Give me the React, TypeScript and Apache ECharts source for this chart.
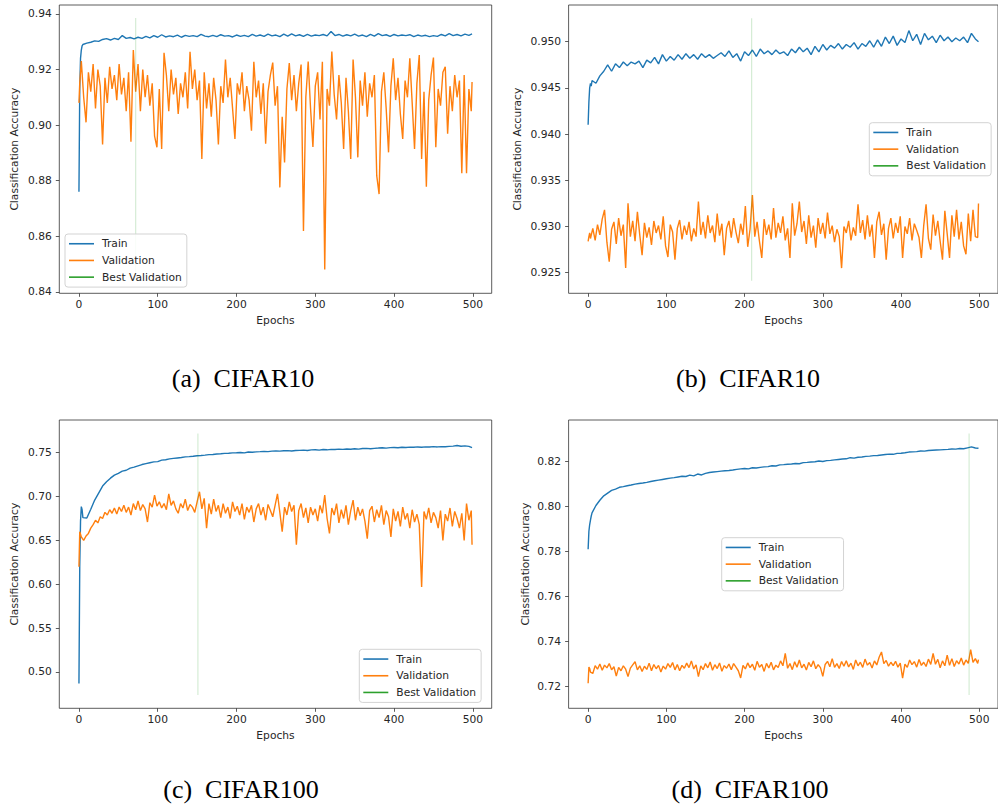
import React, { useEffect, useRef } from "react";
import * as echarts from "echarts";

// ---- data ----
// epochs sampled for the training curves
const EPOCHS = [0, 1, 2, 3, 4, 5,
  10, 15, 20, 25, 30, 35, 40, 45, 50, 55,
  60, 65, 70, 75, 80, 85, 90, 95, 100, 105,
  110, 115, 120, 125, 130, 135, 140, 145, 150, 155,
  160, 165, 170, 175, 180, 185, 190, 195, 200, 205,
  210, 215, 220, 225, 230, 235, 240, 245, 250, 255,
  260, 265, 270, 275, 280, 285, 290, 295, 300, 305,
  310, 315, 320, 325, 330, 335, 340, 345, 350, 355,
  360, 365, 370, 375, 380, 385, 390, 395, 400, 405,
  410, 415, 420, 425, 430, 435, 440, 445, 450, 455,
  460, 465, 470, 475, 480, 485, 490, 495, 499];

// epochs sampled for the (noisier) validation curves
const EPOCHS_V = [0, 1, 2,
  3, 6, 9, 12, 15, 18, 21, 24, 27, 30,
  33, 36, 39, 42, 45, 48, 51, 54, 57, 60,
  63, 66, 69, 72, 75, 78, 81, 84, 87, 90,
  93, 96, 99, 102, 105, 108, 111, 114, 117, 120,
  123, 126, 129, 132, 135, 138, 141, 144, 147, 150,
  153, 156, 159, 162, 165, 168, 171, 174, 177, 180,
  183, 186, 189, 192, 195, 198, 201, 204, 207, 210,
  213, 216, 219, 222, 225, 228, 231, 234, 237, 240,
  243, 246, 249, 252, 255, 258, 261, 264, 267, 270,
  273, 276, 279, 282, 285, 288, 291, 294, 297, 300,
  303, 306, 309, 312, 315, 318, 321, 324, 327, 330,
  333, 336, 339, 342, 345, 348, 351, 354, 357, 360,
  363, 366, 369, 372, 375, 378, 381, 384, 387, 390,
  393, 396, 399, 402, 405, 408, 411, 414, 417, 420,
  423, 426, 429, 432, 435, 438, 441, 444, 447, 450,
  453, 456, 459, 462, 465, 468, 471, 474, 477, 480,
  483, 486, 489, 492, 495, 498, 499];

const TRAIN_A = [0.876, 0.913, 0.924, 0.927, 0.9285, 0.929,
  0.9295, 0.9298, 0.9303, 0.9301, 0.9308, 0.9311, 0.9306, 0.9312, 0.9308, 0.9322,
  0.9312, 0.9315, 0.931, 0.9316, 0.9312, 0.9319, 0.9314, 0.9322, 0.9316, 0.9325,
  0.9317, 0.9321, 0.9318, 0.9324, 0.9316, 0.9323, 0.9319, 0.9322, 0.9318, 0.9326,
  0.932, 0.9318, 0.9323, 0.9318, 0.9325, 0.932, 0.9322, 0.9317, 0.9324, 0.9319,
  0.9323, 0.9318, 0.9326, 0.932, 0.9324, 0.9319, 0.9327, 0.9321, 0.9324, 0.9318,
  0.9327, 0.932, 0.9328, 0.9321, 0.9325, 0.9319, 0.9326, 0.932, 0.9324, 0.9322,
  0.9326, 0.9321, 0.9337, 0.9322, 0.9326, 0.932, 0.9325, 0.9321, 0.9327, 0.932,
  0.9324, 0.9318, 0.9326, 0.932, 0.9329, 0.9322, 0.9325, 0.9319, 0.9326, 0.9321,
  0.9324, 0.9322, 0.9325, 0.9318, 0.9324, 0.932, 0.9323, 0.9318, 0.9322, 0.9319,
  0.9326, 0.9321, 0.9329, 0.9322, 0.9326, 0.9321, 0.9327, 0.9323, 0.9328];

const VAL_A = [0.908, 0.915, 0.919,
  0.923, 0.91, 0.901, 0.919, 0.912, 0.922, 0.906, 0.92, 0.914, 0.893,
  0.917, 0.908, 0.921, 0.913, 0.918, 0.909, 0.922, 0.911, 0.917, 0.905,
  0.919, 0.894, 0.927, 0.912, 0.922, 0.905, 0.92, 0.91, 0.918, 0.907,
  0.915, 0.896, 0.892, 0.913, 0.8914, 0.926, 0.918, 0.905, 0.92, 0.911,
  0.917, 0.904, 0.915, 0.91, 0.919, 0.906, 0.9264, 0.913, 0.92, 0.909,
  0.916, 0.8878, 0.919, 0.906, 0.915, 0.903, 0.917, 0.909, 0.893, 0.914,
  0.908, 0.9236, 0.91, 0.917, 0.906, 0.895, 0.915, 0.911, 0.919, 0.905,
  0.914, 0.909, 0.898, 0.9228, 0.91, 0.916, 0.904, 0.915, 0.8933, 0.912,
  0.918, 0.9225, 0.907, 0.914, 0.8776, 0.903, 0.8866, 0.913, 0.9223, 0.909,
  0.918, 0.905, 0.915, 0.9218, 0.8619, 0.91, 0.9229, 0.906, 0.8921, 0.914,
  0.919, 0.902, 0.9228, 0.8481, 0.913, 0.907, 0.9265, 0.911, 0.902, 0.918,
  0.908, 0.8914, 0.917, 0.905, 0.8878, 0.9236, 0.91, 0.8884, 0.916, 0.907,
  0.919, 0.903, 0.915, 0.91, 0.918, 0.8818, 0.8752, 0.912, 0.919, 0.906,
  0.8902, 0.914, 0.924, 0.909, 0.917, 0.904, 0.895, 0.916, 0.91, 0.924,
  0.908, 0.8914, 0.915, 0.9252, 0.8878, 0.912, 0.8778, 0.909, 0.918, 0.9243,
  0.892, 0.913, 0.907, 0.919, 0.921, 0.8969, 0.914, 0.905, 0.918, 0.91,
  0.916, 0.8827, 0.918, 0.8827, 0.913, 0.905, 0.9155];

const TRAIN_B = [0.941, 0.9435, 0.945, 0.9455, 0.9452, 0.9458,
  0.9455, 0.9463, 0.9468, 0.9475, 0.9468, 0.9476, 0.9472, 0.9478, 0.9474, 0.9478,
  0.9476, 0.9479, 0.9472, 0.948, 0.9477, 0.9483, 0.9476, 0.9486, 0.9479, 0.9484,
  0.948, 0.9486, 0.9481, 0.9487, 0.9482, 0.9486, 0.9481, 0.9487, 0.9483, 0.9486,
  0.9482, 0.9485, 0.9488, 0.9484, 0.949, 0.9483, 0.9487, 0.9479, 0.9489, 0.9485,
  0.9491, 0.9484, 0.9492, 0.9487, 0.949, 0.9486, 0.9491, 0.9487, 0.9489, 0.9485,
  0.9492, 0.9488, 0.9494, 0.9489, 0.9493, 0.9486, 0.9495, 0.9489, 0.9497, 0.9491,
  0.9496, 0.9493, 0.9498, 0.9492, 0.9497, 0.9494, 0.9499, 0.9492, 0.9498, 0.9495,
  0.9501, 0.9494, 0.9502, 0.9495, 0.9505, 0.9498, 0.9506, 0.9496, 0.9503, 0.9499,
  0.9512, 0.9501, 0.9508, 0.9497, 0.9509, 0.9502, 0.9506, 0.9499, 0.9507, 0.9501,
  0.9505, 0.95, 0.9504, 0.9501, 0.9505, 0.9499, 0.9509, 0.9503, 0.95];

const VAL_B = [0.9284, 0.9289, 0.9293,
  0.9287, 0.9298, 0.9285, 0.9302, 0.9291, 0.9308, 0.9318, 0.9283, 0.9262, 0.9297,
  0.9305, 0.9281, 0.9309, 0.929, 0.9302, 0.9255, 0.9325, 0.9289, 0.9306, 0.9284,
  0.9316, 0.9291, 0.9269, 0.9304, 0.9288, 0.9299, 0.928, 0.9306, 0.9293, 0.9301,
  0.9286, 0.9311, 0.9279, 0.9267, 0.9302, 0.9294, 0.9264, 0.9298, 0.9307, 0.9286,
  0.9301, 0.9291, 0.9305, 0.9284, 0.9298, 0.9289, 0.9327, 0.9291, 0.9305, 0.9287,
  0.9312, 0.9293, 0.9301, 0.9283, 0.9314, 0.929, 0.9303, 0.9269, 0.9298, 0.9306,
  0.9288, 0.9309, 0.9294, 0.9282, 0.9303, 0.9291, 0.9322, 0.9278, 0.9297, 0.9334,
  0.9289, 0.9305, 0.9284, 0.9266, 0.9308, 0.9291, 0.9302, 0.9286, 0.932, 0.9288,
  0.9304, 0.9293, 0.9311, 0.9285, 0.9298, 0.9266, 0.9325, 0.929, 0.9303, 0.9327,
  0.9294, 0.9306, 0.9281, 0.9312, 0.9288, 0.9301, 0.9277, 0.9309, 0.9292, 0.9304,
  0.9287, 0.9315, 0.9292, 0.9301, 0.9283, 0.9297, 0.9289, 0.9255, 0.93, 0.9293,
  0.9306, 0.9285, 0.9299, 0.929, 0.9324, 0.9293, 0.9307, 0.9286, 0.9312, 0.9289,
  0.9302, 0.9266, 0.9305, 0.9316, 0.9291, 0.9303, 0.9264, 0.9298, 0.9309, 0.9287,
  0.9304, 0.9293, 0.9311, 0.9266, 0.93, 0.9292, 0.9309, 0.9285, 0.9303, 0.9296,
  0.9288, 0.9266, 0.9301, 0.9324, 0.9287, 0.9275, 0.9313, 0.929, 0.9306, 0.9284,
  0.9264, 0.9317, 0.9292, 0.9266, 0.9312, 0.9289, 0.9318, 0.9286, 0.9305, 0.9279,
  0.927, 0.9314, 0.9284, 0.9318, 0.9289, 0.9288, 0.9325];

const TRAIN_C = [0.487, 0.62, 0.672, 0.6885, 0.685, 0.676,
  0.6755, 0.6855, 0.696, 0.704, 0.712, 0.717, 0.721, 0.7245, 0.7265, 0.729,
  0.73, 0.7325, 0.7335, 0.735, 0.7365, 0.7375, 0.7385, 0.7395, 0.7398, 0.7415,
  0.742, 0.743, 0.7435, 0.744, 0.7445, 0.7452, 0.7455, 0.746, 0.7466, 0.7468,
  0.7472, 0.7478, 0.748, 0.7485, 0.7488, 0.7492, 0.7494, 0.7498, 0.75, 0.7503,
  0.7498, 0.7508, 0.7505, 0.751, 0.7512, 0.7515, 0.7512, 0.7518, 0.752, 0.7518,
  0.7522, 0.7524, 0.752, 0.7526, 0.7527, 0.753, 0.7526, 0.7532, 0.7534, 0.753,
  0.7536, 0.7533, 0.7538, 0.7536, 0.7541, 0.7538, 0.7543, 0.754, 0.7545, 0.7541,
  0.7548, 0.7549, 0.7546, 0.755, 0.7553, 0.7557, 0.7552, 0.7558, 0.756, 0.7557,
  0.7562, 0.756, 0.7564, 0.7562, 0.7566, 0.7563, 0.7567, 0.7565, 0.7569, 0.7566,
  0.757, 0.7568, 0.7572, 0.7575, 0.7582, 0.7574, 0.7578, 0.7572, 0.7557];

const VAL_C = [0.62, 0.66, 0.657,
  0.654, 0.65, 0.655, 0.658, 0.664, 0.668, 0.673, 0.67, 0.677, 0.675,
  0.682, 0.679, 0.685, 0.681, 0.687, 0.68, 0.688, 0.683, 0.69, 0.682,
  0.688, 0.679, 0.692, 0.685, 0.695, 0.684, 0.691, 0.686, 0.671, 0.693,
  0.688, 0.7017, 0.689, 0.694, 0.687, 0.692, 0.685, 0.703, 0.69, 0.695,
  0.686, 0.681, 0.692, 0.687, 0.697, 0.684, 0.691, 0.688, 0.682, 0.694,
  0.7055, 0.686, 0.698, 0.664, 0.692, 0.68, 0.697, 0.683, 0.69, 0.676,
  0.692, 0.681, 0.688, 0.675, 0.694, 0.683, 0.689, 0.679, 0.692, 0.674,
  0.688, 0.682, 0.69, 0.671, 0.686, 0.692, 0.679, 0.688, 0.673, 0.691,
  0.684, 0.677, 0.69, 0.703, 0.682, 0.66, 0.688, 0.679, 0.694, 0.683,
  0.69, 0.645, 0.684, 0.692, 0.676, 0.687, 0.67, 0.688, 0.679, 0.686,
  0.672, 0.69, 0.681, 0.7017, 0.675, 0.658, 0.687, 0.679, 0.692, 0.67,
  0.685, 0.675, 0.69, 0.668, 0.684, 0.696, 0.673, 0.688, 0.678, 0.686,
  0.672, 0.652, 0.684, 0.689, 0.671, 0.685, 0.676, 0.69, 0.668, 0.684,
  0.677, 0.654, 0.686, 0.672, 0.683, 0.666, 0.688, 0.674, 0.681, 0.664,
  0.685, 0.671, 0.68, 0.668, 0.597, 0.683, 0.674, 0.687, 0.67, 0.682,
  0.676, 0.664, 0.684, 0.65, 0.68, 0.672, 0.687, 0.666, 0.683, 0.675,
  0.664, 0.681, 0.65, 0.692, 0.673, 0.684, 0.645];

const TRAIN_D = [0.781, 0.789, 0.792, 0.794, 0.7958, 0.7972,
  0.8005, 0.8028, 0.8048, 0.806, 0.8072, 0.8078, 0.8086, 0.8089, 0.8093, 0.8096,
  0.81, 0.8103, 0.8105, 0.8108, 0.8112, 0.8115, 0.8118, 0.8121, 0.8124, 0.8127,
  0.8129, 0.8132, 0.8135, 0.8134, 0.814, 0.8137, 0.8145, 0.8141, 0.8148, 0.8152,
  0.8154, 0.8156, 0.8158, 0.816, 0.8161, 0.8163, 0.8166, 0.8168, 0.817, 0.8168,
  0.8173, 0.8172, 0.8175, 0.8177, 0.8178, 0.8182, 0.8181, 0.8186, 0.8187, 0.8189,
  0.819, 0.8192, 0.8191, 0.8196, 0.8197, 0.8199, 0.82, 0.8203, 0.8201, 0.8205,
  0.8206, 0.8208, 0.821, 0.8212, 0.8213, 0.8218, 0.8216, 0.822, 0.8221, 0.8224,
  0.8225, 0.8227, 0.8228, 0.823, 0.8232, 0.8234, 0.8233, 0.8237, 0.8238, 0.824,
  0.8243, 0.8244, 0.8245, 0.8248, 0.8247, 0.825, 0.8251, 0.8252, 0.8253, 0.8254,
  0.8255, 0.8257, 0.8256, 0.8259, 0.8258, 0.8262, 0.8266, 0.8261, 0.826];

const VAL_D = [0.7212, 0.7285, 0.7278,
  0.7262, 0.7256, 0.7291, 0.7275, 0.7298, 0.727, 0.7293, 0.7281, 0.73, 0.7272,
  0.7286, 0.7244, 0.7283, 0.7268, 0.729, 0.7275, 0.7242, 0.728, 0.7294, 0.7308,
  0.7272, 0.729, 0.7265, 0.7288, 0.7274, 0.7302, 0.7268, 0.7296, 0.7277, 0.7292,
  0.7262, 0.7289, 0.7275, 0.73, 0.7283, 0.7305, 0.7272, 0.7296, 0.7268, 0.7292,
  0.7279, 0.7302, 0.7282, 0.7312, 0.7276, 0.7294, 0.7242, 0.729, 0.7273, 0.73,
  0.7281, 0.7307, 0.727, 0.7295, 0.7278, 0.7303, 0.7266, 0.7291, 0.7279, 0.7298,
  0.7273, 0.73, 0.7284, 0.7268, 0.7236, 0.7292, 0.7276, 0.7303, 0.7282, 0.7297,
  0.727, 0.731, 0.7284, 0.7296, 0.7265, 0.7301, 0.728, 0.7306, 0.7272, 0.7293,
  0.7283, 0.7312, 0.729, 0.7345, 0.7279, 0.73, 0.7273, 0.7308, 0.7284, 0.7316,
  0.7281, 0.7297, 0.7271, 0.7305, 0.7286, 0.7312, 0.7277, 0.7295, 0.7282, 0.7243,
  0.7296, 0.731, 0.7286, 0.7322, 0.7283, 0.73, 0.7278, 0.7309, 0.7288, 0.7313,
  0.7285, 0.7302, 0.7274, 0.7316, 0.729, 0.7306, 0.7283, 0.732, 0.7293, 0.7305,
  0.728, 0.7312, 0.7294, 0.7328, 0.7352, 0.73, 0.7314, 0.7288, 0.7306, 0.7291,
  0.731, 0.7284, 0.7302, 0.7235, 0.7298, 0.7283, 0.7316, 0.7295, 0.7309, 0.7284,
  0.7318, 0.7292, 0.7306, 0.7287, 0.732, 0.7296, 0.7345, 0.7297, 0.7319, 0.7281,
  0.7312, 0.729, 0.7338, 0.7292, 0.7322, 0.7287, 0.7313, 0.7298, 0.7325, 0.7293,
  0.7316, 0.7301, 0.7362, 0.7305, 0.7322, 0.7301, 0.7318];

const BEST_EPOCH = [72, 209, 151, 487];
const BEST_LOW = [0.8442, 0.92413, 0.4738, 0.716];
const BEST_HIGH = [0.9385, 0.95253, 0.772, 0.8326];

const X_TICKS = [0, 100, 200, 300, 400, 500];
const Y_TICKS_A = [0.84, 0.86, 0.88, 0.9, 0.92, 0.94];
const Y_TICKS_B = [0.925, 0.93, 0.935, 0.94, 0.945, 0.95];
const Y_TICKS_C = [0.5, 0.55, 0.6, 0.65, 0.7, 0.75];
const Y_TICKS_D = [0.72, 0.74, 0.76, 0.78, 0.8, 0.82];

const CAPTIONS = ["(a)  CIFAR10", "(b)  CIFAR10", "(c)  CIFAR100", "(d)  CIFAR100"];
const SERIES_NAMES = ["Train", "Validation", "Best Validation"];

// ---- layout ----
const PANELS = [
  { train: TRAIN_A, val: VAL_A, yTicks: Y_TICKS_A, dec: 2, yMin: 0.8395, yMax: 0.9432,
    grid: { left: 59.3, top: 5, width: 432.4, height: 288.3 }, nameGap: 39,
    legend: { left: 65, top: 234 }, caption: { x: 243, y: 378 } },
  { train: TRAIN_B, val: VAL_B, yTicks: Y_TICKS_B, dec: 3, yMin: 0.92277, yMax: 0.95397,
    grid: { left: 568.6, top: 5, width: 433.2, height: 288.3 }, nameGap: 46,
    legend: { left: 869.3, top: 122.7 }, caption: { x: 748, y: 378 } },
  { train: TRAIN_C, val: VAL_C, yTicks: Y_TICKS_C, dec: 2, yMin: 0.4586, yMax: 0.7873,
    grid: { left: 59.3, top: 420, width: 432.4, height: 288.3 }, nameGap: 39,
    legend: { left: 359.3, top: 649.3 }, caption: { x: 241, y: 789 } },
  { train: TRAIN_D, val: VAL_D, yTicks: Y_TICKS_D, dec: 2, yMin: 0.71006, yMax: 0.8386,
    grid: { left: 568.6, top: 420, width: 433.2, height: 288.3 }, nameGap: 38,
    legend: { left: 721.7, top: 537.7 }, caption: { x: 750, y: 789 } },
];

const BLUE = "#1f77b4";
const ORANGE = "#ff7f0e";
const GREEN = "#2ca02c";
const TXT = "#262626";
const FONT = "DejaVu Sans";
const FS = 10.7;

function buildOption() {
  const grid: any[] = [];
  const xAxis: any[] = [];
  const yAxis: any[] = [];
  const series: any[] = [];
  const legend: any[] = [];
  const graphic: any[] = [];

  PANELS.forEach((p, i) => {
    grid.push({ ...p.grid, show: true, borderColor: "#333", borderWidth: 0.8, backgroundColor: "transparent" });
    xAxis.push({
      type: "value", gridIndex: i, min: -24.95, max: 523.95, position: "bottom",
      name: "Epochs", nameLocation: "middle", nameGap: 22,
      nameTextStyle: { fontFamily: FONT, fontSize: FS, color: TXT },
      axisLine: { show: false, onZero: false },
      axisTick: { show: true, length: 3.5, lineStyle: { color: "#333", width: 0.8 }, customValues: X_TICKS },
      axisLabel: { fontFamily: FONT, fontSize: FS, color: TXT, margin: 6, customValues: X_TICKS,
        formatter: (v: number) => String(Math.round(v)) },
      splitLine: { show: false },
    });
    yAxis.push({
      type: "value", gridIndex: i, min: p.yMin, max: p.yMax, position: "left",
      name: "Classification Accuracy", nameLocation: "middle", nameGap: p.nameGap,
      nameTextStyle: { fontFamily: FONT, fontSize: FS, color: TXT },
      axisLine: { show: false, onZero: false },
      axisTick: { show: true, length: 3.5, lineStyle: { color: "#333", width: 0.8 }, customValues: p.yTicks },
      axisLabel: { fontFamily: FONT, fontSize: FS, color: TXT, margin: 7.5, customValues: p.yTicks,
        formatter: (v: number) => v.toFixed(p.dec) },
      splitLine: { show: false },
    });
    series.push({
      type: "line", name: "Train", xAxisIndex: i, yAxisIndex: i, showSymbol: false,
      data: EPOCHS.map((e, k) => [e, p.train[k]]),
      itemStyle: { color: BLUE }, lineStyle: { color: BLUE, width: 1.4 }, z: 3,
    });
    series.push({
      type: "line", name: "Validation", xAxisIndex: i, yAxisIndex: i, showSymbol: false,
      data: EPOCHS_V.map((e, k) => [e, p.val[k]]),
      itemStyle: { color: ORANGE }, lineStyle: { color: ORANGE, width: 1.4 }, z: 3,
    });
    series.push({
      type: "line", name: "Best Validation", xAxisIndex: i, yAxisIndex: i, showSymbol: false,
      data: [[BEST_EPOCH[i], BEST_LOW[i]], [BEST_EPOCH[i], BEST_HIGH[i]]],
      itemStyle: { color: GREEN }, lineStyle: { color: "rgba(44,160,44,0.2)", width: 1.2 }, z: 3,
    });
    legend.push({
      left: p.legend.left, top: p.legend.top, orient: "vertical",
      icon: "rect", itemWidth: 25, itemHeight: 1.6, itemGap: 4,
      padding: [3.4, 5, 3.6, 4],
      backgroundColor: "rgba(255,255,255,0.85)", borderColor: "#d3d3d3", borderWidth: 1, borderRadius: 3,
      selectedMode: false,
      textStyle: { fontFamily: FONT, fontSize: FS, color: TXT, lineHeight: 12.7, padding: [0, 0, 0, 3] },
      data: [
        { name: SERIES_NAMES[0], itemStyle: { color: BLUE } },
        { name: SERIES_NAMES[1], itemStyle: { color: ORANGE } },
        { name: SERIES_NAMES[2], itemStyle: { color: GREEN } },
      ],
      z: 10,
    });
    graphic.push({
      type: "text", x: p.caption.x, y: p.caption.y,
      style: { text: CAPTIONS[i], fontFamily: "Liberation Serif", fontSize: 26, fill: "#000",
        textAlign: "center", textVerticalAlign: "middle" },
    });
  });

  return { animation: false, backgroundColor: "#fff", grid, xAxis, yAxis, series, legend, graphic };
}

export default function App() {
  const ref = useRef<HTMLDivElement>(null);
  useEffect(() => {
    document.body.style.margin = "0";
    if (!ref.current) return;
    const chart = echarts.init(ref.current, undefined, { renderer: "svg" });
    chart.setOption(buildOption() as any);
    return () => chart.dispose();
  }, []);
  return <div ref={ref} style={{ width: 998, height: 809 }} />;
}
